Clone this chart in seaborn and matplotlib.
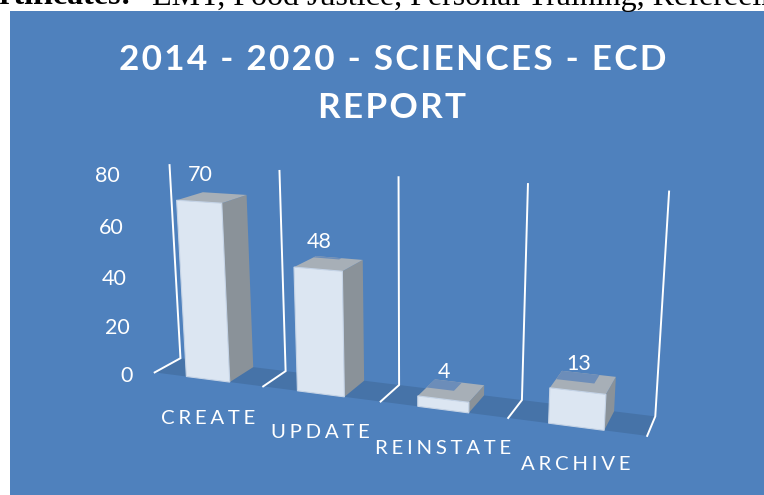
import numpy as np
import matplotlib
matplotlib.use("Agg")
import matplotlib.pyplot as plt
import seaborn as sns
from matplotlib.patches import Polygon, Rectangle
from matplotlib.path import Path
from matplotlib.transforms import Transform

categories = ["CREATE", "UPDATE", "REINSTATE", "ARCHIVE"]
values = [70, 48, 4, 13]
y_ticks = [0, 20, 40, 60, 80]
title_lines = ["2014 - 2020 - SCIENCES - ECD", "REPORT"]

W, H = 764, 495
BLUE = "#4F81BD"
FLOOR = "#4673A8"
FRONT = "#DCE6F2"
SIDE = "#8A9299"
TOP = "#A7AFB7"
PATCH = "#6C8DB9"
BAR_W = 0.4

# camera calibration: (category position, value, depth) -> picture pixel
calib = [
    (-.5, 0, 1, 181, 358.3), (.5, 0, 1, 285.7, 370.7), (1.5, 0, 1, 399.3, 385),
    (2.5, 0, 1, 522.3, 400), (3.5, 0, 1, 655, 416.7),
    (-.5, 80, 1, 169, 165), (.5, 80, 1, 279.3, 171), (1.5, 80, 1, 398.3, 177.3),
    (2.5, 80, 1, 527.7, 184), (3.5, 80, 1, 669.3, 191.7),
    (-.5, 0, 0, 154.3, 372.3), (.5, 0, 0, 262.7, 386.7), (1.5, 0, 0, 380, 401.7),
    (2.5, 0, 0, 508, 418.3), (3.5, 0, 0, 647, 435.7),
    (-.2, 70, 0, 177.3, 200.7), (.2, 70, 0, 221.7, 202.7),
    (.8, 48, 0, 294.7, 267.3), (1.2, 48, 0, 342.3, 271),
    (2.8, 13, 0, 550.3, 388), (3.2, 13, 0, 606, 393.7),
]
rows = []
for x, y, z, u, v in calib:
    rows.append([x, y, z, 1, 0, 0, 0, 0, -u*x, -u*y, -u*z, -u])
    rows.append([0, 0, 0, 0, x, y, z, 1, -v*x, -v*y, -v*z, -v])
P = np.linalg.svd(np.array(rows, float))[2][-1].reshape(3, 4)


class Camera(Transform):
    """Projects (category position, value) at a given depth to figure pixels."""
    input_dims = output_dims = 2
    has_inverse = False
    is_separable = False

    def __init__(self, z=0.0):
        super().__init__()
        self.z = z

    def transform_non_affine(self, pts):
        pts = np.asarray(pts, float)
        h = np.column_stack([pts, np.full(len(pts), self.z), np.ones(len(pts))]) @ P.T
        return h[:, :2] / h[:, 2:3]

    def transform_path_non_affine(self, path):
        return Path(self.transform_non_affine(path.vertices), path.codes)


def project(x, y, z):
    h = P @ np.array([x, y, z, 1.0])
    return h[:2] / h[2]


fig = plt.figure(figsize=(W/100, H/100), dpi=100, facecolor="white")
bg = fig.add_axes([0, 0, 1, 1])
bg.set_xlim(0, W)
bg.set_ylim(H, 0)
bg.axis("off")
bg.add_patch(Rectangle((10, 11), 760, 490, fc=BLUE, ec="none", zorder=0))

bg.text(132, 4.5, "Certificates:", family="Liberation Serif", fontweight="bold",
        fontsize=23, color="black", va="baseline", ha="right")
bg.text(152, 4.5, "EMT, Food Justice, Personal Training, Refereeing", family="Liberation Serif",
        fontsize=23, color="black", va="baseline", ha="left")

ax = fig.add_axes([0, 0, 1, 1], facecolor="none")
sns.barplot(x=categories, y=values, ax=ax, width=BAR_W, color=FRONT, saturation=1)
ax.set_xlim(-1, 4)
ax.set_ylim(0, 100)
ax.axis("off")

to_px = bg.transData


def cam(z):
    return Camera(z) + to_px


# floor and walls
xs = np.arange(len(categories) + 1) - 0.5
floor = [project(xs[0], 0, 0), project(xs[-1], 0, 0), project(xs[-1], 0, 1), project(xs[0], 0, 1)]
bg.add_patch(Polygon(floor, fc=FLOOR, ec="none", zorder=1))
for x in xs:
    line = np.array([project(x, 0, 0), project(x, 0, 1), project(x, y_ticks[-1], 1)])
    bg.plot(line[:, 0], line[:, 1], color="white", lw=1.4, zorder=2, solid_joinstyle="miter")

# seaborn's bars supply the faces of each box
label_patch = {1: (0.0, 0.55, 0.88), 2: (0.0, 0.55, 0.5), 3: (0.0, 0.7, 0.5)}
for i, bar in enumerate(ax.patches):
    x0, x1 = bar.get_x(), bar.get_x() + bar.get_width()
    top = bar.get_height()
    bar.set_transform(cam(0))
    bar.set_clip_on(False)
    bar.set_zorder(5)
    bar.set_edgecolor("#C6D4E6")
    bar.set_linewidth(0.8)
    side = [project(x1, 0, 0), project(x1, 0, 1), project(x1, top, 1), project(x1, top, 0)]
    cap = [project(x0, top, 0), project(x1, top, 0), project(x1, top, 1), project(x0, top, 1)]
    bg.add_patch(Polygon(side, fc=SIDE, ec="none", zorder=3))
    bg.add_patch(Polygon(cap, fc=TOP, ec="none", zorder=3))
    if i in label_patch:
        a, b, zs = label_patch[i]
        xa, xb = x0 + a*(x1-x0), x0 + b*(x1-x0)
        poly = [project(xa, top, zs), project(xb, top, zs), project(xb, top, 1), project(xa, top, 1)]
        bg.add_patch(Polygon(poly, fc=PATCH, ec="none", zorder=4))
    cx, cy = project((x0+x1)/2, top, 0)
    bg.text(cx + 1, cy - 27, str(values[i]), color="white", fontsize=15.5, family="Lato",
            ha="center", va="center", zorder=6)

# axis numbers follow the left edge
for t in y_ticks:
    px, py = project(-0.5, t, 0)
    bg.text(px - 22, py + 4, str(t), color="white", fontsize=15.5,
            family="Lato", ha="right", va="center", zorder=6)

# category names along the front edge
for i, c in enumerate(categories):
    px, py = project(i, 0, 0)
    bg.text(px, py + 39.5 - i*0.5, "\u200a\u2009".join(c), color="white", fontsize=14.7,
            family="Lato", ha="center", va="center", zorder=6)

for k, line in enumerate(title_lines):
    bg.text(392.5, 60 + k*48, "\u200a".join(line), color="white", fontsize=25.3, fontweight="bold",
            family="Lato", ha="center", va="center", zorder=6)

fig.savefig("out.png", dpi=100, facecolor="white")
